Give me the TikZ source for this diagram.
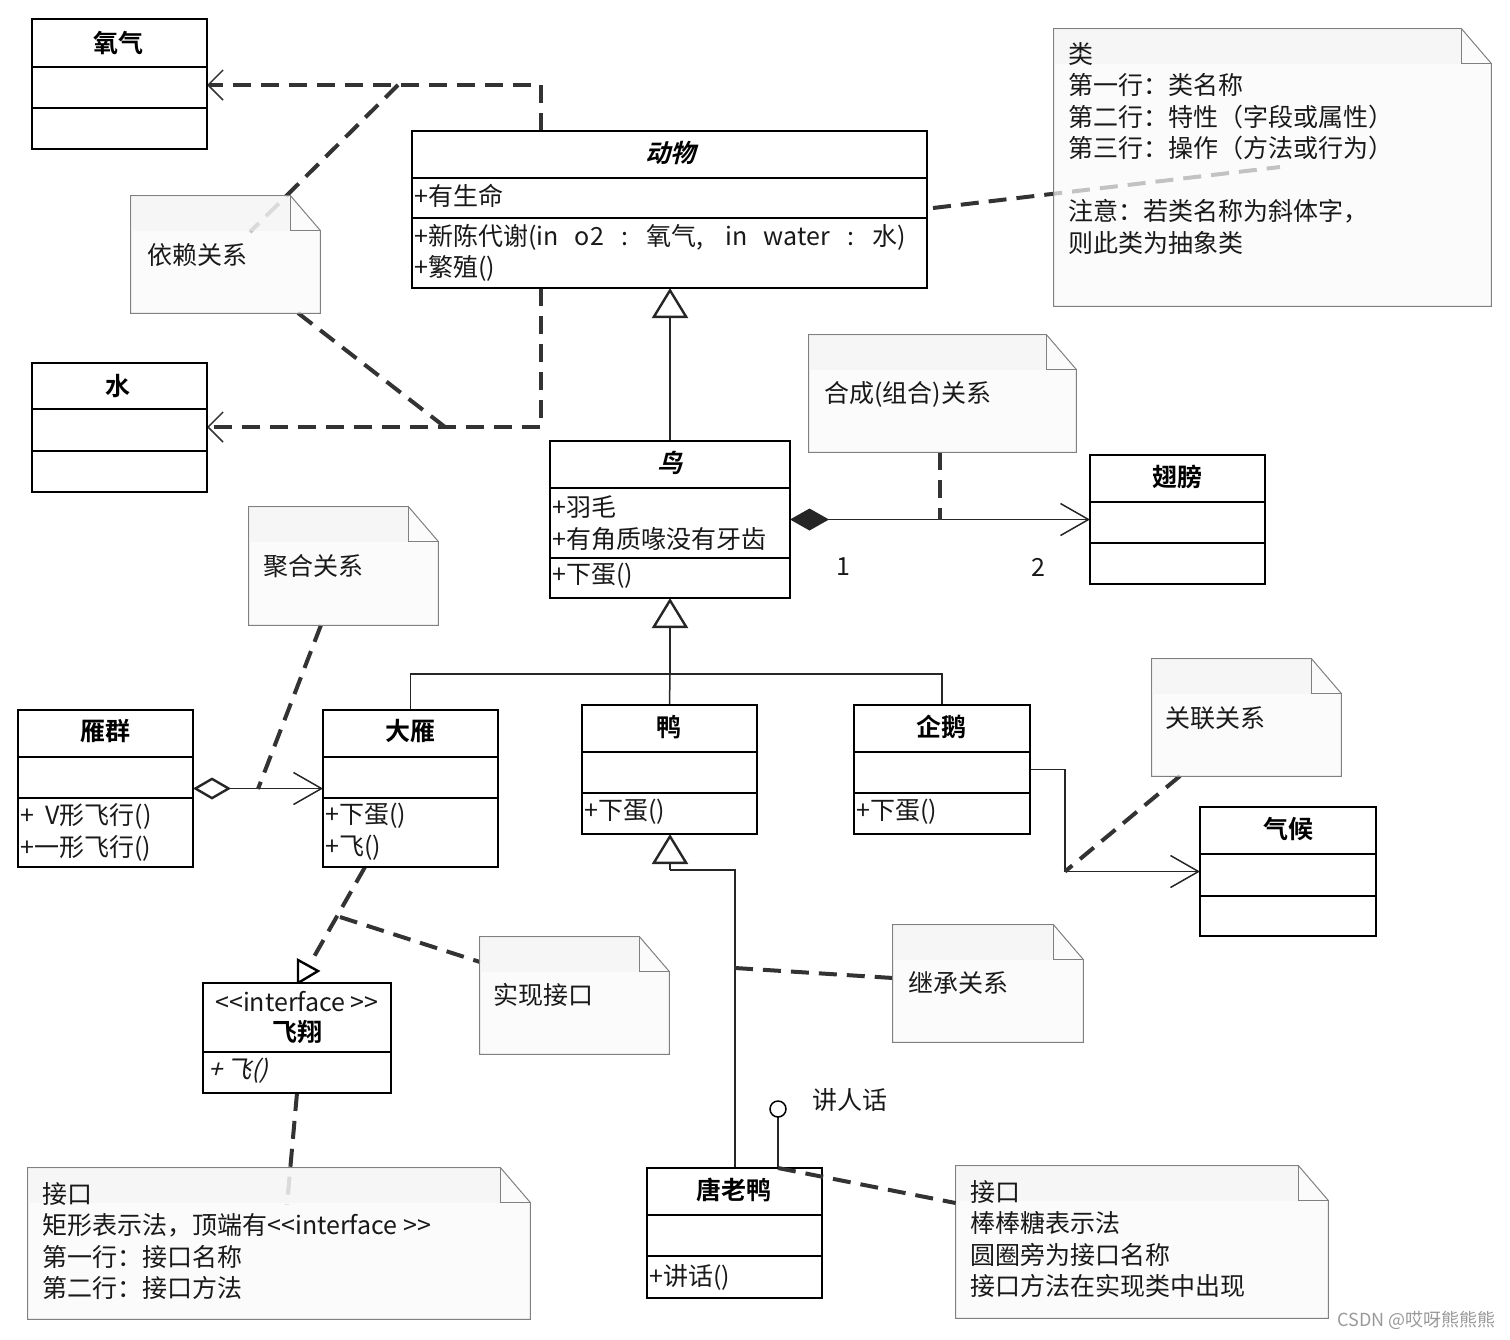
\documentclass[tikz,border=0pt]{standalone}
\usepackage{fontspec}
\setmainfont{Noto Sans CJK SC}[BoldFont={* Bold}]
\newfontfamily\itfont{Noto Sans CJK SC}[FakeSlant=0.25]
\newfontfamily\bitfont{Noto Sans CJK SC Bold}[FakeSlant=0.25]
\usetikzlibrary{arrows.meta,calc}

\newcommand\umlclass[7]{%
  \node[classbox, minimum width={(#4-#2)*0.5pt}, minimum height={(#5-#3)*0.5pt}] (#1) at ({(#2+#4)/2},{(#3+#5)/2}) {};
  \draw[classline] (#2,#6) -- (#4,#6);
  \draw[classline] (#2,#7) -- (#4,#7);
}
\newcommand\notebox[5]{%
  \node[inner sep=0, minimum width={(#4-#2)*0.5pt}, minimum height={(#5-#3)*0.5pt}] (#1) at ({(#2+#4)/2},{(#3+#5)/2}) {};
  \path[notebody] (#1.north west) -- ([xshift=-15pt]#1.north east) -- ([yshift=-17.5pt]#1.north east) -- (#1.south east) -- (#1.south west) -- cycle;
  \path[notetop] (#1.north west) -- ([xshift=-15pt]#1.north east) -- ([xshift=-15pt,yshift=-17.5pt]#1.north east) -- ([yshift=-17.5pt]#1.north west) -- cycle;
  \draw[notefold] ([xshift=-15pt]#1.north east) |- ([yshift=-17.5pt]#1.north east);
}

\begin{document}
\begin{tikzpicture}[x=0.5pt,y=-0.5pt,
  classbox/.style={draw=black, line width=1.3pt, fill=white, inner sep=0, rectangle},
  classline/.style={line width=1.3pt},
  title/.style={font=\fontsize{12.5}{15}\selectfont\bfseries, inner sep=0},
  ititle/.style={font=\fontsize{12.5}{15}\selectfont\bitfont, inner sep=0},
  member/.style={font=\fontsize{12.5}{15}\selectfont, anchor=west, inner sep=0, text=black!90},
  notebody/.style={fill=white!98!black, fill opacity=0.72, draw=black!50, line width=0.5pt},
  notetop/.style={fill=white!95!black, fill opacity=0.5},
  notefold/.style={draw=black!50, line width=0.5pt},
  notetext/.style={font=\fontsize{12.5}{15.75}\selectfont, anchor=north west, align=left, inner sep=0, text=black!90},
  dep/.style={draw=black!80, line width=2pt, dash pattern=on 9pt off 5pt},
  solidc/.style={draw=black!85, line width=0.75pt},
  openv/.tip={Straight Barb[length=7.5pt,width=15pt,line width=0.75pt]},
  bigv/.tip={Straight Barb[length=14pt,width=16pt,line width=0.75pt]},
  inh/.tip={Triangle[open,length=15pt,width=18pt,line width=1.2pt,fill=white]},
  comp/.tip={Diamond[length=19.5pt,width=11pt,line width=0.75pt]},
  aggr/.tip={Diamond[open,length=19pt,width=11pt,line width=1.2pt,fill=white]}
]
\useasboundingbox (0,0) rectangle (1510,1339);

% ---------- coordinates on connectors
\coordinate (o2c) at (541,85);
\coordinate (h2oc) at (541,427);
\coordinate (dj1) at (398,85);
\coordinate (dj2) at (445,427);
\coordinate (depin) at (250,232);
\coordinate (classin) at (1280,167);
\coordinate (animalout) at (933,208);
\coordinate (compj) at (940,520);
\coordinate (junc) at (670,674);
\coordinate (aggj) at (258,789);
\coordinate (assoc) at (1065,871.5);
\coordinate (realend) at (311,962);
\coordinate (realstart) at (365,867);
\coordinate (realj) at (340,917);
\coordinate (tldj) at (670,870);
\coordinate (tldin) at (735,968);
\coordinate (lolly) at (778,1109);
\coordinate (ifin) at (287,1205);

% ---------- connectors
\draw[dep,-openv] (541,131) -- (o2c) -- (207,85);
\draw[dep,-openv] (541,288) -- (h2oc) -- (207,427);
\draw[dep] (dj1) -- (depin);
\draw[dep] (dj2) -- (298,313);
\draw[dep] (animalout) -- (classin);

\draw[solidc,-inh] (670,441) -- (670,288);
\draw[solidc,{comp}-{bigv}] (790,519.5) -- (1090,519.5);
\draw[dep] (940,452) -- (compj);

\draw[solidc] (410.5,710) |- (junc);
\draw[solidc] (942,705) |- (junc);
\draw[solidc] (669.5,705) -- (junc);
\draw[solidc,-inh] (junc) -- (670,598);

\draw[solidc,{aggr}-{bigv}] (193,788.5) -- (323,788.5);
\draw[dep] (321,625) -- (aggj);

\draw[solidc,-{bigv}] (1030,769.5) -| (assoc) -- (1200,871.5);
\draw[dep] (1180,776) -- (assoc);

\draw[dep] (realstart) -- (realend);
\draw[line width=1.2pt, fill=white] (298,960) -- (318,971) -- (298,983) -- cycle;
\draw[dep] (realj) -- (480,962);
\draw[dep] (297,1093) -- (ifin);

\draw[solidc] (735,1168) |- (tldj);
\draw[solidc,-inh] (tldj) -- (670,834);
\draw[dep] (tldin) -- (893,978);

\draw[solidc] (778,1168) -- ([yshift=-4pt]lolly);
\draw[line width=0.75pt, fill=white] (lolly) circle[radius=4pt];

% ---------- notes
\notebox{depnote}{131}{196}{320}{313}
\notebox{classnote}{1054}{29}{1491}{306}
\notebox{compnote}{809}{335}{1076}{452}
\notebox{aggnote}{249}{507}{438}{625}
\notebox{assocnote}{1152}{659}{1341}{776}
\notebox{realnote}{480}{937}{669}{1054}
\notebox{inhnote}{893}{925}{1083}{1042}
\notebox{ifnote}{28}{1168}{530}{1319}
\notebox{lollynote}{956}{1166}{1328}{1318}

\node[notetext, anchor=west] at (147,255) {依赖关系};
\node[notetext] at (1068,42) {类\\第一行：类名称\\第二行：特性（字段或属性）\\第三行：操作（方法或行为）\\[15.75pt]注意：若类名称为斜体字，\\则此类为抽象类};
\node[notetext, anchor=west] at (824,394) {合成(组合)关系};
\node[notetext, anchor=west] at (263,566) {聚合关系};
\node[notetext, anchor=west] at (1165,718) {关联关系};
\node[notetext, anchor=west] at (493,995) {实现接口};
\node[notetext, anchor=west] at (908,983) {继承关系};
\node[notetext] at (42,1182) {接口\\矩形表示法，顶端有<{}<interface >{}>\\第一行：接口名称\\第二行：接口方法};
\node[notetext] at (970,1180) {接口\\棒棒糖表示法\\圆圈旁为接口名称\\接口方法在实现类中出现};

% ---------- classes
\umlclass{oxy}{32}{19}{207}{149}{67}{108}
\umlclass{water}{32}{363}{207}{492}{409}{451}
\umlclass{animal}{412}{131}{927}{288}{178}{218}
\umlclass{bird}{550}{441}{790}{598}{488}{558}
\umlclass{wing}{1090}{455}{1265}{584}{502}{543}
\umlclass{flock}{18}{710}{193}{867}{757}{798}
\umlclass{goose}{323}{710}{498}{867}{757}{798}
\umlclass{duck}{582}{705}{757}{834}{752}{793}
\umlclass{penguin}{854}{705}{1030}{834}{752}{793}
\umlclass{climate}{1200}{807}{1376}{936}{854}{896}
\umlclass{tld}{647}{1168}{822}{1298}{1215}{1256}
\umlclass{flyer}{203}{983}{391}{1093}{1052}{1052}

% connector drawn over the class box
\draw[dep] (778,1168) -- (lollynote.west |- 0,1203);

% titles
\node[title] (toxy) at (118,43) {氧气};
\node[title] (twater) at (118,386) {水};
\node[ititle] (tanimal) at (670,153) {动物};
\node[ititle] (tbird) at (670,463) {鸟};
\node[title] (twing) at (1177,477) {翅膀};
\node[title] (tflock) at (105,731) {雁群};
\node[title] (tgoose) at (410,731) {大雁};
\node[title] (tduck) at (669,727) {鸭};
\node[title] (tpenguin) at (941,727) {企鹅};
\node[title] (tclimate) at (1288,829) {气候};
\node[title] (ttld) at (734,1190) {唐老鸭};
\node[member, anchor=center] (tflyst) at (297,1002) {<{}<interface >{}>};
\node[title] (tflyer) at (297,1032) {飞翔};

% members
\node[member] at (414,196) {+有生命};
\node[member] at (414,237) {+新陈代谢(in\hspace{8pt}o2\hspace{9pt}:\hspace{9pt}氧气,\hspace{11pt}in\hspace{8pt}water\hspace{9pt}:\hspace{9pt}水)};
\node[member] at (414,268) {+繁殖()};
\node[member] at (552,507) {+羽毛};
\node[member] at (552,539) {+有角质喙没有牙齿};
\node[member] at (552,576) {+下蛋()};
\node[member] at (20,816) {+\ \ V形飞行()};
\node[member] at (20,848) {+一形飞行()};
\node[member] at (325,816) {+下蛋()};
\node[member] at (325,848) {+飞()};
\node[member] at (584,812) {+下蛋()};
\node[member] at (856,812) {+下蛋()};
\node[member] at (649,1277) {+讲话()};
\node[member, font=\fontsize{12.5}{15}\selectfont\itfont] at (208,1071) {+\,飞()};

% labels
\node[member, anchor=center] (m1) at (843,567) {1};
\node[member, anchor=center] (m2) at (1038,567) {2};
\node[member] (lname) at (812,1100) {讲人话};
\node[font=\fontsize{9}{11}\selectfont, text=black!40, anchor=east, inner sep=0] (wm) at (1496,1320) {CSDN @哎呀熊熊熊};
\end{tikzpicture}
\end{document}
